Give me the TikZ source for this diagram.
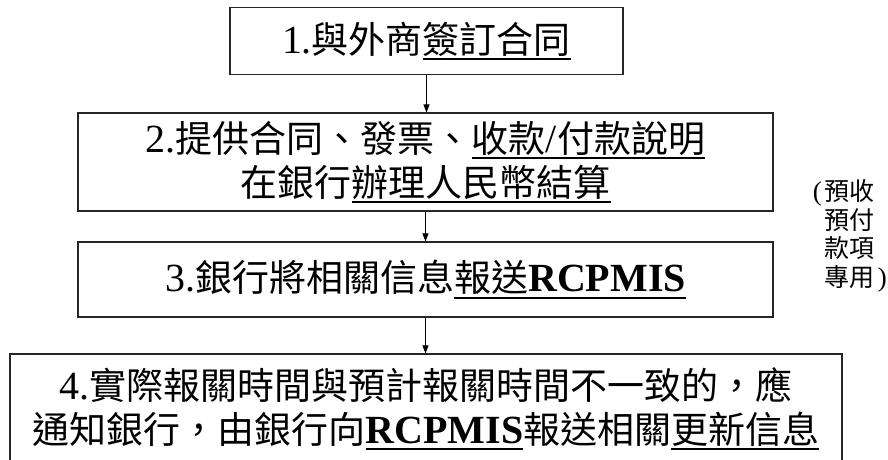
\documentclass[tikz,border=0pt]{standalone}
\usepackage{fontspec}
\setmainfont{Liberation Serif}[Scale=1.08]
\newfontfamily\cjk{Noto Sans CJK TC}
\usetikzlibrary{arrows.meta}
\newcommand{\ZH}[1]{{\cjk #1}}
\newcommand{\UL}[1]{\setbox0=\hbox{#1}\rlap{\rule[-7pt]{\wd0}{2pt}}\box0}

\begin{document}
\begin{tikzpicture}[x=1pt, y=1pt, >={Triangle[length=8pt,width=6pt]},
    stepbox/.style={draw=black!85, line width=1.1pt, align=center, inner sep=0pt,
                    font=\fontsize{37}{44}\selectfont},
    flow/.style={->, line width=0.9pt}]
         \useasboundingbox (0,0) rectangle (888,-459);
         \clip (0,0) rectangle (888,-459);
         \node (S1) [stepbox, minimum width=393pt, minimum height=67pt] at (426.5,-41)
               {1.\ZH{與外商}\UL{\ZH{簽訂合同}}};
         \node (S2) [stepbox, minimum width=695pt, minimum height=98pt] at (425.5,-162)
               {2.\ZH{提供合同、發票、}\UL{\ZH{收款}/\ZH{付款說明}}\\
                \ZH{在銀行}\UL{\ZH{辦理人民幣結算}}};
         \node (S3) [stepbox, minimum width=695pt, minimum height=75pt] at (425.5,-279.5)
               {3.\ZH{銀行將相關信息}\UL{\ZH{報送}\textbf{RCPMIS}}};
         \node (S4) [stepbox, minimum width=832pt, minimum height=110pt] at (426,-409)
               {4.\ZH{實際報關時間與預計報關時間不一致的，應}\\
                \ZH{通知銀行，由銀行向}\UL{\textbf{RCPMIS}}\ZH{報送相關}\UL{\ZH{更新信息}}};
         \node (N) [anchor=west, align=left, font=\fontsize{25}{28.5}\selectfont] at (821,-236)
               {\llap{(\hspace{3pt}}\ZH{預收}\\\ZH{預付}\\\ZH{款項}\\\ZH{專用}\hspace{3pt})};
         \draw [flow] (S1.south) -- (S1.south |- S2.north);
         \draw [flow] (S2.south) -- (S3.north);
         \draw [flow] (S3.south) -- (S3.south |- S4.north);
\end{tikzpicture}
\end{document}
